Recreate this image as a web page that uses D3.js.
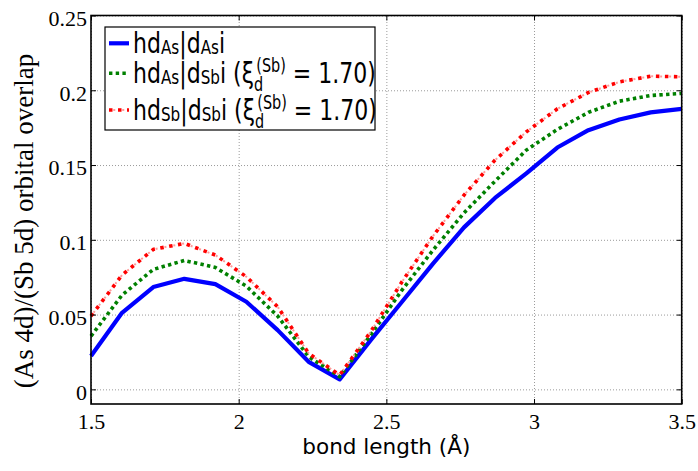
<!DOCTYPE html>
<html>
<head>
<meta charset="utf-8">
<script src="https://cdn.jsdelivr.net/npm/d3@7"></script>
<style>
  body { margin: 0; background: #fff; }
  .tick text { font-family: "Liberation Serif", serif; font-size: 22px; fill: #000; }
  .grid line { stroke: #9a9a9a; stroke-width: 1; stroke-dasharray: 1,2; }
  .grid .domain { display: none; }
</style>
</head>
<body>
<div id="canvas"></div>
<script>
// bond length (Å)
const bondLength = [1.5, 1.605, 1.711, 1.816, 1.921, 2.026, 2.132, 2.237, 2.342, 2.447,
                    2.553, 2.658, 2.763, 2.868, 2.974, 3.079, 3.184, 3.289, 3.395, 3.5];
// <d_As|d_As>
const asAs = [0.0223, 0.0512, 0.0684, 0.0739, 0.0704, 0.0586, 0.0396, 0.0184, 0.0067, 0.0329,
              0.0586, 0.0841, 0.1083, 0.1280, 0.1444, 0.1617, 0.1733, 0.1805, 0.1852, 0.1875];
// <d_As|d_Sb>
const asSb = [0.0356, 0.0630, 0.0802, 0.0862, 0.0815, 0.0690, 0.0490, 0.0218, 0.0085, 0.0364,
              0.0664, 0.0931, 0.1180, 0.1392, 0.1600, 0.1738, 0.1852, 0.1927, 0.1965, 0.1979];
// <d_Sb|d_Sb>
const sbSb = [0.0490, 0.0764, 0.0936, 0.0976, 0.0898, 0.0753, 0.0552, 0.0241, 0.0095, 0.0385,
              0.0719, 0.1025, 0.1299, 0.1533, 0.1722, 0.1876, 0.1985, 0.2056, 0.2094, 0.2090];

const xTicks = [1.5, 2, 2.5, 3, 3.5];
const yTicks = [0, 0.05, 0.1, 0.15, 0.2, 0.25];
const yTickLabels = ["0", "0.05", "0.1", "0.15", "0.2", "0.25"];

const width = 698;
const height = 471;
const m = { left: 91, right: 681.7, top: 15.5, bottom: 404 };

const svg = d3.select("#canvas").append("svg")
  .attr("width", width).attr("height", height);

const x = d3.scaleLinear().domain([1.5, 3.5]).range([m.left, m.right]);
const y = d3.scaleLinear().domain([-0.0098, 0.25]).range([m.bottom, m.top]);

// grid
svg.append("g").attr("class", "grid")
  .attr("transform", `translate(0,${m.bottom})`)
  .call(d3.axisBottom(x).tickValues(xTicks).tickSize(-(m.bottom - m.top)).tickFormat(""));
svg.append("g").attr("class", "grid")
  .attr("transform", `translate(${m.left},0)`)
  .call(d3.axisLeft(y).tickValues(yTicks).tickSize(-(m.right - m.left)).tickFormat(""));

// series
const line = d3.line().x((d, i) => x(bondLength[i])).y(d => y(d));

svg.append("path").datum(asAs).attr("d", line)
  .attr("fill", "none").attr("stroke", "#0000ff").attr("stroke-width", 4.2)
  .attr("stroke-linejoin", "round");
svg.append("path").datum(asSb).attr("d", line)
  .attr("fill", "none").attr("stroke", "#008000").attr("stroke-width", 3.6)
  .attr("stroke-dasharray", "3.4,3.3");
svg.append("path").datum(sbSb).attr("d", line)
  .attr("fill", "none").attr("stroke", "#ff9a9a").attr("stroke-width", 2)
  .attr("stroke-dasharray", "2,7").attr("stroke-dashoffset", 4.75);
svg.append("path").datum(sbSb).attr("d", line)
  .attr("fill", "none").attr("stroke", "#ff0000").attr("stroke-width", 3.6)
  .attr("stroke-dasharray", "3.5,5.5");

// axes
const axL = svg.append("g").attr("transform", `translate(${m.left},0)`)
  .call(d3.axisLeft(y).tickValues(yTicks).tickSize(-5).tickPadding(4)
    .tickFormat((d, i) => yTickLabels[i]));
axL.selectAll("text").attr("dy", "0.45em");
svg.append("g").attr("transform", `translate(0,${m.bottom})`)
  .call(d3.axisBottom(x).tickValues(xTicks).tickSize(-5).tickPadding(9).tickFormat(d3.format("")));
svg.append("g").attr("transform", `translate(${m.right},0)`)
  .call(d3.axisRight(y).tickValues(yTicks).tickSize(-5).tickFormat(""));
svg.append("g").attr("transform", `translate(0,${m.top})`)
  .call(d3.axisTop(x).tickValues(xTicks).tickSize(-5).tickFormat(""));
svg.selectAll(".domain").filter(function () { return !this.parentNode.classList.contains("grid"); })
  .remove();

svg.append("rect")
  .attr("x", m.left).attr("y", m.top).attr("width", m.right - m.left).attr("height", m.bottom - m.top)
  .attr("fill", "none").attr("stroke", "#000").attr("stroke-width", 1.6);

// axis labels
svg.append("text")
  .attr("transform", `translate(${(m.left + m.right) / 2},454) scale(0.98,1)`)
  .attr("text-anchor", "middle")
  .style("font-family", "DejaVu Sans").style("font-size", "22px")
  .text("bond length (Å)");

svg.append("text")
  .attr("transform", "translate(33,221) rotate(-90)")
  .attr("text-anchor", "middle")
  .style("font-family", "Liberation Serif").style("font-size", "27px")
  .text("(As 4d)/(Sb 5d) orbital overlap");

// legend
const lg = svg.append("g");
lg.append("rect").attr("x", 105).attr("y", 27).attr("width", 270).attr("height", 103)
  .attr("fill", "#fff").attr("stroke", "#000").attr("stroke-width", 1.2);

const rows = [
  { base: 53.3, sub1: "As", sub2: "As", tail: false },
  { base: 83.3, sub1: "As", sub2: "Sb", tail: true },
  { base: 120,  sub1: "Sb", sub2: "Sb", tail: true }
];

rows.forEach((r, k) => {
  const ly = r.base - 10;
  if (k === 0) {
    lg.append("line").attr("x1", 109).attr("x2", 129).attr("y1", ly).attr("y2", ly)
      .attr("stroke", "#0000ff").attr("stroke-width", 4.2);
  } else if (k === 1) {
    lg.append("line").attr("x1", 109).attr("x2", 129).attr("y1", ly).attr("y2", ly)
      .attr("stroke", "#008000").attr("stroke-width", 3.6).attr("stroke-dasharray", "3.4,3.3");
  } else {
    lg.append("line").attr("x1", 109).attr("x2", 129).attr("y1", ly).attr("y2", ly)
      .attr("stroke", "#ff9a9a").attr("stroke-width", 2)
      .attr("stroke-dasharray", "2,7").attr("stroke-dashoffset", 4.75);
    lg.append("line").attr("x1", 109).attr("x2", 129).attr("y1", ly).attr("y2", ly)
      .attr("stroke", "#ff0000").attr("stroke-width", 3.6).attr("stroke-dasharray", "3.5,5.5");
  }
  const t = lg.append("text")
    .attr("transform", `translate(133,${r.base}) scale(0.76,1)`)
    .style("font-family", "DejaVu Sans").style("font-size", "29px");
  t.append("tspan").text("hd");
  t.append("tspan").attr("dy", 1).style("font-size", "20px").text(r.sub1);
  t.append("tspan").attr("dy", -1).text("|d");
  t.append("tspan").attr("dy", 1).style("font-size", "20px").text(r.sub2);
  t.append("tspan").attr("dy", -1).text(r.tail ? "i (ξ" : "i");
  if (r.tail) {
    const ds = t.append("tspan").attr("dy", 8).style("font-size", "19px").text("d");
    const dw = ds.node().getComputedTextLength();
    t.append("tspan").attr("dx", -dw + 3).attr("dy", -19).style("font-size", "19px").text("(Sb)");
    t.append("tspan").attr("dy", 11).text(" = 1.70)");
  }
});
</script>
</body>
</html>
